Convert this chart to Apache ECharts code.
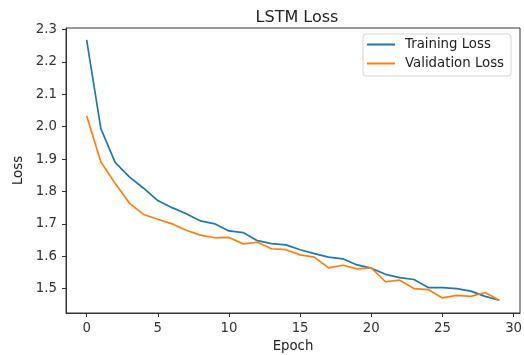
<!DOCTYPE html>
<html>
<head>
<meta charset="utf-8">
<script src="https://cdn.jsdelivr.net/npm/echarts@6/dist/echarts.min.js"></script>
<style>
html,body{margin:0;padding:0;background:#fff;}
#chart{width:524px;height:355px;}
</style>
</head>
<body>
<div id="chart"></div>
<script>
const epochs = [0,1,2,3,4,5,6,7,8,9,10,11,12,13,14,15,16,17,18,19,20,21,22,23,24,25,26,27,28,29];
const trainingLoss = [2.268,1.994,1.890,1.845,1.810,1.772,1.750,1.731,1.709,1.700,1.678,1.673,1.648,1.639,1.635,1.620,1.608,1.597,1.592,1.573,1.563,1.544,1.534,1.528,1.503,1.503,1.500,1.492,1.476,1.464];
const validationLoss = [2.034,1.891,1.825,1.764,1.729,1.714,1.700,1.680,1.665,1.657,1.658,1.638,1.643,1.623,1.620,1.604,1.597,1.564,1.572,1.561,1.564,1.521,1.526,1.500,1.497,1.471,1.479,1.476,1.488,1.464];
const xTicks = [0,5,10,15,20,25,30];
const yTicks = [1.5,1.6,1.7,1.8,1.9,2.0,2.1,2.2,2.3];

const font = 'DejaVu Sans';
const fs = 13.3;
const chart = echarts.init(document.getElementById('chart'), null, {renderer:'canvas'});
chart.setOption({
  animation:false,
  backgroundColor:'#fff',
  textStyle:{fontFamily:font},
  title:{
    text:'LSTM Loss', left:292, top:5, textAlign:'center',
    textStyle:{fontFamily:font, fontSize:16, fontWeight:'normal', color:'#222'}
  },
  legend:{
    orient:'vertical', left:363, top:34,
    backgroundColor:'#fff', borderColor:'#d5d5d5', borderWidth:1, borderRadius:3,
    padding:[3,7,5,4], itemGap:4, itemWidth:28, itemHeight:2,
    icon:'rect',
    textStyle:{fontFamily:font, fontSize:fs, color:'#222', padding:[0,0,0,5], lineHeight:15},
    data:['Training Loss','Validation Loss']
  },
  grid:{left:66, right:4, top:28, bottom:42, show:true, borderColor:'#333', borderWidth:1,
    containLabel:false, outerBoundsMode:'none'},
  xAxis:{
    type:'value', min:-1.45, max:30.45,
    name:'Epoch', nameLocation:'middle', nameGap:27,
    nameTextStyle:{fontFamily:font, fontSize:fs, color:'#222'},
    axisLine:{show:true, onZero:false, lineStyle:{color:'#333', width:1}},
    axisTick:{show:true, inside:false, length:4, lineStyle:{color:'#333'}, customValues:xTicks},
    axisLabel:{fontFamily:font, fontSize:fs, color:'#333', margin:9, customValues:xTicks},
    splitLine:{show:false}
  },
  yAxis:{
    type:'value', min:1.4245, max:2.305,
    name:'Loss', nameLocation:'middle', nameGap:37, nameRotate:90,
    nameTextStyle:{fontFamily:font, fontSize:fs, color:'#222'},
    axisLine:{show:true, onZero:false, lineStyle:{color:'#333', width:1}},
    axisTick:{show:true, inside:false, length:4, lineStyle:{color:'#333'}, customValues:yTicks},
    axisLabel:{fontFamily:font, fontSize:fs, color:'#333', margin:9, customValues:yTicks,
      formatter:function(v){return v.toFixed(1);}},
    splitLine:{show:false}
  },
  series:[
    {name:'Training Loss', type:'line', symbol:'none', color:'#1f77b4',
     lineStyle:{width:1.7, color:'#1f77b4'},
     data:epochs.map((e,i)=>[e,trainingLoss[i]])},
    {name:'Validation Loss', type:'line', symbol:'none', color:'#ff7f0e',
     lineStyle:{width:1.7, color:'#ff7f0e'},
     data:epochs.map((e,i)=>[e,validationLoss[i]])}
  ]
});
</script>
</body>
</html>
